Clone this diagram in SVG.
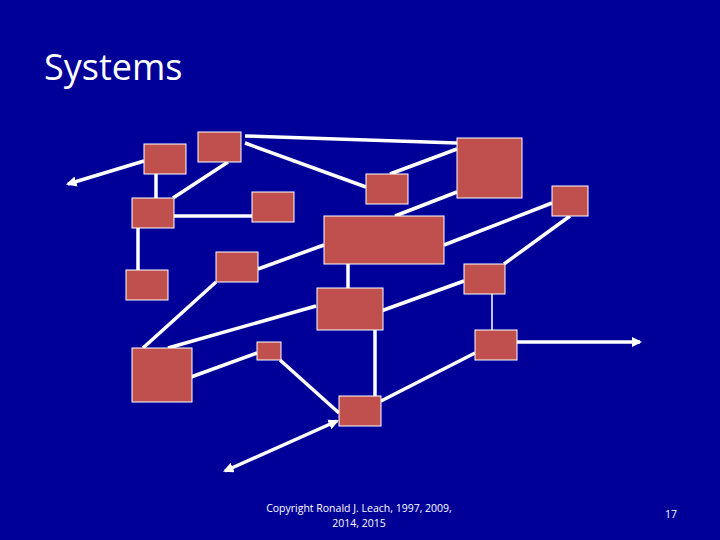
<svg xmlns="http://www.w3.org/2000/svg" width="720" height="540" viewBox="0 0 720 540">
<defs>
<style>
.n{fill:#c0504d;stroke:#fff;stroke-width:1}
.c line{stroke:#fff;stroke-width:3.5}
.t{fill:#fff;font-family:"Open Sans","Liberation Sans",sans-serif}
</style>
<marker id="ah" viewBox="0 0 10 10" refX="8" refY="5" markerWidth="3" markerHeight="3" orient="auto-start-reverse"><path d="M0,0L10,5L0,10z" fill="#fff"/></marker>
</defs>
<rect width="720" height="540" fill="#000099"/>
<text class="t" x="44" y="80" font-size="36">Systems</text>
<g class="c">
<line x1="144" y1="161" x2="68" y2="184" marker-end="url(#ah)"/>
<line x1="156" y1="174" x2="156" y2="198"/>
<line x1="228" y1="162" x2="173" y2="198"/>
<line x1="245" y1="136" x2="457" y2="143"/>
<line x1="245" y1="143" x2="366" y2="187"/>
<line x1="390" y1="174" x2="457" y2="149"/>
<line x1="174" y1="216" x2="252" y2="216"/>
<line x1="138" y1="228" x2="138" y2="270"/>
<line x1="395" y1="216" x2="457" y2="192"/>
<line x1="444" y1="245" x2="552" y2="203"/>
<line x1="258" y1="269" x2="324" y2="245"/>
<line x1="216" y1="282" x2="143" y2="348"/>
<line x1="348" y1="264" x2="348" y2="288"/>
<line x1="381" y1="311" x2="464" y2="281"/>
<line x1="504" y1="264" x2="570" y2="216"/>
<line x1="492" y1="294" x2="492" y2="330" style="stroke-width:1.5"/>
<line x1="517" y1="342" x2="640" y2="342" marker-end="url(#ah)"/>
<line x1="316" y1="306" x2="168" y2="348"/>
<line x1="191" y1="377" x2="257" y2="353"/>
<line x1="280" y1="360" x2="339" y2="413"/>
<line x1="375" y1="330" x2="375" y2="396"/>
<line x1="381" y1="401" x2="475" y2="353"/>
<line x1="225" y1="471" x2="337" y2="421" marker-start="url(#ah)" marker-end="url(#ah)"/>
</g>
<g id="nA"><rect class="n" x="144" y="144" width="42" height="30"/></g>
<g id="nB"><rect class="n" x="198" y="132" width="43" height="30"/></g>
<g id="nC"><rect class="n" x="132" y="198" width="42" height="30"/></g>
<g id="nD"><rect class="n" x="252" y="192" width="42" height="30"/></g>
<g id="nE"><rect class="n" x="126" y="270" width="42" height="30"/></g>
<g id="nF"><rect class="n" x="366" y="174" width="42" height="30"/></g>
<g id="nG"><rect class="n" x="324" y="216" width="120" height="48"/></g>
<g id="nH"><rect class="n" x="216" y="252" width="42" height="30"/></g>
<g id="nI"><rect class="n" x="457" y="138" width="65" height="60"/></g>
<g id="nJ"><rect class="n" x="552" y="186" width="36" height="30"/></g>
<g id="nK"><rect class="n" x="317" y="288" width="66" height="42"/></g>
<g id="nL"><rect class="n" x="464" y="264" width="41" height="30"/></g>
<g id="nM"><rect class="n" x="475" y="330" width="42" height="30"/></g>
<g id="nN"><rect class="n" x="132" y="348" width="60" height="54"/></g>
<g id="nO"><rect class="n" x="257" y="342" width="24" height="18"/></g>
<g id="nP"><rect class="n" x="339" y="396" width="42" height="30"/></g>
<text class="t" x="359" y="512" font-size="10.5" text-anchor="middle">Copyright Ronald J. Leach, 1997, 2009,</text>
<text class="t" x="359" y="527" font-size="10.5" text-anchor="middle">2014, 2015</text>
<text class="t" x="671" y="518" font-size="10.5" text-anchor="middle">17</text>
</svg>
